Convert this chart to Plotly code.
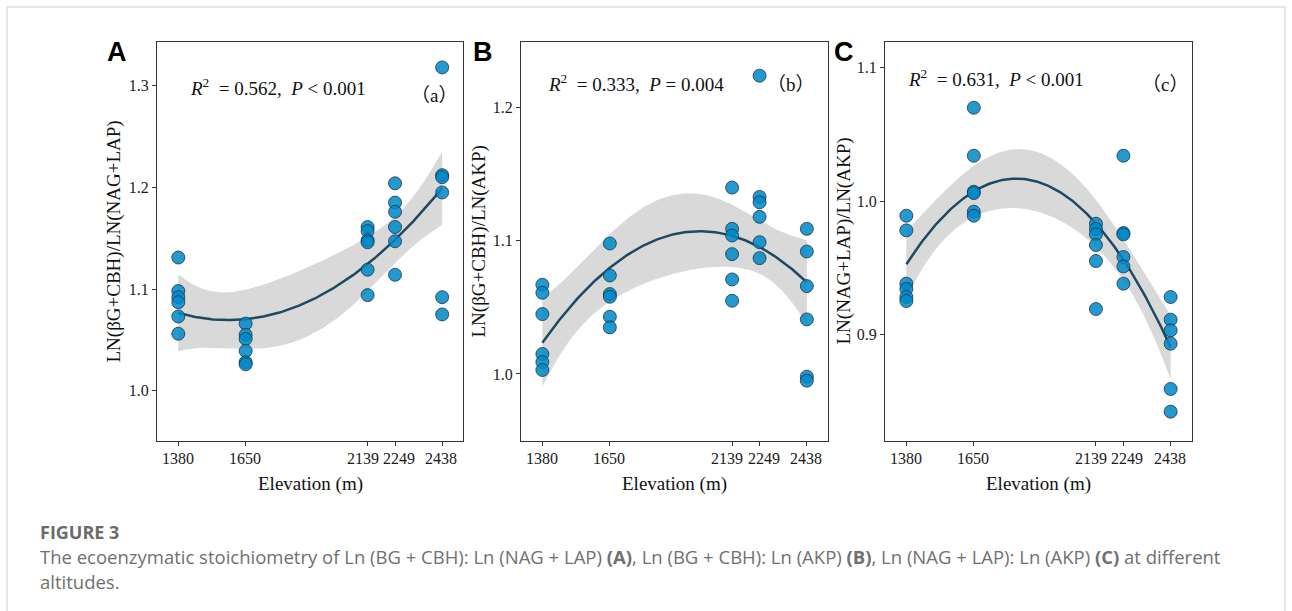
import numpy as np
import plotly.graph_objects as go

W, H = 1292, 611

# ---------------- data ----------------
elevations = [1380, 1650, 2139, 2249, 2438]
tick_labels_x = ["1380", "1650", "2139", "2249", "2438"]

# six replicates per elevation, in elevation order
ratio_a = [1.131, 1.098, 1.092, 1.087, 1.073, 1.056,   # 1380
           1.066, 1.055, 1.051, 1.039, 1.028, 1.026,   # 1650
           1.161, 1.157, 1.148, 1.146, 1.119, 1.094,   # 2139
           1.204, 1.185, 1.176, 1.161, 1.147, 1.114,   # 2249
           1.318, 1.212, 1.210, 1.195, 1.092, 1.075]   # 2438
ratio_b = [1.067, 1.061, 1.045, 1.015, 1.009, 1.003,
           1.098, 1.074, 1.060, 1.058, 1.043, 1.035,
           1.140, 1.109, 1.104, 1.090, 1.071, 1.055,
           1.224, 1.133, 1.129, 1.118, 1.099, 1.087,
           1.109, 1.092, 1.066, 1.041, 0.998, 0.995]
ratio_c = [0.989, 0.978, 0.938, 0.934, 0.928, 0.925,
           1.070, 1.034, 1.007, 1.006, 0.992, 0.989,
           0.983, 0.979, 0.975, 0.967, 0.955, 0.919,
           1.034, 0.976, 0.975, 0.958, 0.951, 0.938,
           0.928, 0.911, 0.903, 0.893, 0.859, 0.842]

yticks_a = [1.0, 1.1, 1.2, 1.3]
yticks_b = [1.0, 1.1, 1.2]
yticks_c = [0.9, 1.0, 1.1]

stats_text = ["<i>R</i><sup>2</sup>  = 0.562,  <i>P</i> &lt; 0.001",
              "<i>R</i><sup>2</sup>  = 0.333,  <i>P</i> = 0.004",
              "<i>R</i><sup>2</sup>  = 0.631,  <i>P</i> &lt; 0.001"]
sub_letters = ["a", "b", "c"]
panel_letters = ["A", "B", "C"]
y_titles = ["LN(βG+CBH)/LN(NAG+LAP)", "LN(βG+CBH)/LN(AKP)", "LN(NAG+LAP)/LN(AKP)"]
x_title = "Elevation (m)"
caption_head = "FIGURE 3"
caption_1 = ("The ecoenzymatic stoichiometry of Ln (BG + CBH): Ln (NAG + LAP) <b>(A)</b>, "
             "Ln (BG + CBH): Ln (AKP) <b>(B)</b>, Ln (NAG + LAP): Ln (AKP) <b>(C)</b> at different")
caption_2 = "altitudes."

# ---------------- layout geometry (pixels) ----------------
panel_x = [(157, 463), (521, 827.7), (885, 1191.5)]
panel_y = (42.3, 440.7)
x_range = [1294.5, 2521.5]
y_ranges = [[0.9508, 1.3427], [0.9499, 1.2491], [0.8202, 1.1191]]
tick_label_shift = [0, -1, -5, 4, -1]   # small horizontal nudges of x tick labels (px)

SERIF = "Liberation Serif, Times New Roman, serif"
CJK = "Noto Sans CJK SC, Noto Sans CJK JP, sans-serif"
POINT_FILL = "rgba(0,136,200,0.86)"
POINT_EDGE = "#1c3545"
LINE_COLOR = "#1d4a60"
BAND_COLOR = "#d9d9d9"


def px(x):
    return x / W


def py(y):
    return 1 - y / H


def quad_fit(x, y, grid, t_crit=2.052):
    x = np.asarray(x, float)
    y = np.asarray(y, float)
    xs = (x - 1900.0) / 1000.0
    gs = (grid - 1900.0) / 1000.0
    X = np.column_stack([np.ones_like(xs), xs, xs ** 2])
    beta, *_ = np.linalg.lstsq(X, y, rcond=None)
    resid = y - X @ beta
    dof = len(y) - 3
    s2 = resid @ resid / dof
    XtX_inv = np.linalg.inv(X.T @ X)
    G = np.column_stack([np.ones_like(gs), gs, gs ** 2])
    pred = G @ beta
    se = np.sqrt(s2 * np.einsum("ij,jk,ik->i", G, XtX_inv, G))
    return pred, pred - t_crit * se, pred + t_crit * se


fig = go.Figure()
x_pts = np.repeat(elevations, 6)
grid = np.linspace(min(elevations), max(elevations), 200)
all_series = [ratio_a, ratio_b, ratio_c]
all_yticks = [yticks_a, yticks_b, yticks_c]

annotations = []
for i, series in enumerate(all_series):
    xa = "x" if i == 0 else f"x{i + 1}"
    ya = "y" if i == 0 else f"y{i + 1}"
    pred, lo, hi = quad_fit(x_pts, series, grid)
    fig.add_trace(go.Scatter(
        x=np.concatenate([grid, grid[::-1]]), y=np.concatenate([hi, lo[::-1]]),
        fill="toself", fillcolor=BAND_COLOR, line=dict(width=0), mode="lines",
        hoverinfo="skip", xaxis=xa, yaxis=ya))
    fig.add_trace(go.Scatter(
        x=grid, y=pred, mode="lines", line=dict(color=LINE_COLOR, width=2.5),
        xaxis=xa, yaxis=ya))
    fig.add_trace(go.Scatter(
        x=x_pts, y=series, mode="markers",
        marker=dict(size=13, color=POINT_FILL, line=dict(color=POINT_EDGE, width=0.8)),
        xaxis=xa, yaxis=ya))

    x0, x1 = panel_x[i]
    axis_common = dict(showline=True, linecolor="#333333", linewidth=1.3, mirror=True,
                       ticks="outside", ticklen=4, tickwidth=1, tickcolor="#333333",
                       showgrid=False, zeroline=False, tickangle=0,
                       tickfont=dict(family=SERIF, size=16, color="#1a1a1a"))
    fig.update_layout(**{
        ("xaxis" if i == 0 else f"xaxis{i + 1}"): dict(
            domain=[px(x0), px(x1)], anchor=ya, range=x_range,
            tickvals=elevations, showticklabels=False, **axis_common),
        ("yaxis" if i == 0 else f"yaxis{i + 1}"): dict(
            domain=[py(panel_y[1]), py(panel_y[0])], anchor=xa, range=y_ranges[i],
            tickvals=all_yticks[i], ticktext=[f"{v:.1f}" for v in all_yticks[i]],
            **axis_common),
    })
    # x tick labels drawn at the axis' own tick positions
    for ev, lab, sh in zip(elevations, tick_labels_x, tick_label_shift):
        annotations.append(dict(x=ev, xref=xa, y=py(458), yref="paper", text=lab,
                                xshift=sh, showarrow=False, xanchor="center", yanchor="middle",
                                font=dict(family=SERIF, size=16, color="#1a1a1a")))

# text placements (pixels)
stats_pos = [(188, 87), (546, 83), (906, 78)]
sub_pos = [(434, 93), (791, 82), (1165, 82)]
letter_pos = [(117, 52), (483, 52), (844, 52)]
ytitle_x = [113, 478, 843]

for i in range(3):
    x0, x1 = panel_x[i]
    annotations.append(dict(x=px(stats_pos[i][0]), y=py(stats_pos[i][1]), xref="paper", yref="paper",
                            text=stats_text[i], showarrow=False, xanchor="left", yanchor="middle",
                            font=dict(family=SERIF, size=19, color="#111111")))
    sub_txt = (f"（<span style=\"font-family:'Liberation Serif'\">{sub_letters[i]}</span>）")
    annotations.append(dict(x=px(sub_pos[i][0]), y=py(sub_pos[i][1]), xref="paper", yref="paper",
                            text=sub_txt, showarrow=False, xanchor="center", yanchor="middle",
                            font=dict(family=CJK, size=19, color="#111111")))
    annotations.append(dict(x=px(letter_pos[i][0]), y=py(letter_pos[i][1]), xref="paper", yref="paper",
                            text=f"<b>{panel_letters[i]}</b>", showarrow=False, xanchor="center", yanchor="middle",
                            font=dict(family="Liberation Sans, Arial, sans-serif", size=27, color="#000000")))
    annotations.append(dict(x=px(ytitle_x[i]), y=py((panel_y[0] + panel_y[1]) / 2), xref="paper", yref="paper",
                            text=y_titles[i], showarrow=False, textangle=-90, xanchor="center", yanchor="middle",
                            font=dict(family=SERIF, size=19, color="#111111")))
    annotations.append(dict(x=px((x0 + x1) / 2), y=py(484), xref="paper", yref="paper",
                            text=x_title, showarrow=False, xanchor="center", yanchor="middle",
                            font=dict(family=SERIF, size=19, color="#111111")))

annotations.append(dict(x=px(38), y=py(532), xref="paper", yref="paper", text=f"<b>{caption_head}</b>",
                        showarrow=False, xanchor="left", yanchor="middle",
                        font=dict(family="Open Sans", size=18, color="#6b6b6b")))
annotations.append(dict(x=px(38), y=py(556), xref="paper", yref="paper", text=caption_1,
                        showarrow=False, xanchor="left", yanchor="middle",
                        font=dict(family="Open Sans", size=18.5, color="#707070")))
annotations.append(dict(x=px(38), y=py(581), xref="paper", yref="paper", text=caption_2,
                        showarrow=False, xanchor="left", yanchor="middle",
                        font=dict(family="Open Sans", size=18.5, color="#707070")))

fig.update_layout(
    width=W, height=H, margin=dict(l=0, r=0, t=0, b=0),
    paper_bgcolor="white", plot_bgcolor="white", showlegend=False,
    annotations=annotations,
    shapes=[dict(type="rect", xref="paper", yref="paper",
                 x0=px(7), x1=px(1285), y0=-0.05, y1=py(7),
                 line=dict(color="#cccccc", width=1), fillcolor="rgba(0,0,0,0)", layer="below")],
)

fig.write_html("out.html")
